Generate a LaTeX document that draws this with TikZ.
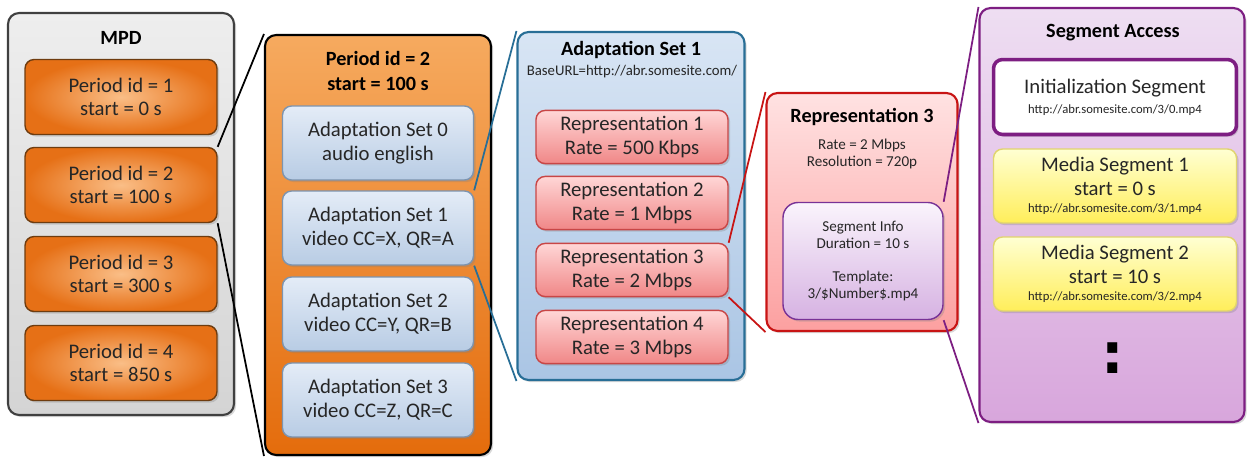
\documentclass[tikz,border=0pt]{standalone}
\usepackage{fontspec}
\setmainfont{Carlito}
\newfontfamily\dotfont{DejaVu Sans}
\usepackage{tikz}
\usetikzlibrary{shadows}
\usepackage{xcolor}
\definecolor{mpdline}{RGB}{64,64,64}
\definecolor{mpdtop}{RGB}{238,238,238}
\definecolor{mpdbot}{RGB}{212,212,212}
\definecolor{perline}{RGB}{110,60,15}
\definecolor{perin}{RGB}{250,190,135}
\definecolor{perout}{RGB}{230,112,22}
\definecolor{pertop}{RGB}{246,170,95}
\definecolor{perbot}{RGB}{228,108,12}
\definecolor{asline}{RGB}{125,148,175}
\definecolor{astop}{RGB}{228,236,247}
\definecolor{asbot}{RGB}{184,204,228}
\definecolor{setline}{RGB}{40,110,150}
\definecolor{settop}{RGB}{216,229,244}
\definecolor{setbot}{RGB}{170,197,228}
\definecolor{repline}{RGB}{200,70,70}
\definecolor{reptop}{RGB}{255,214,214}
\definecolor{repbot}{RGB}{240,135,135}
\definecolor{bigrepline}{RGB}{200,20,20}
\definecolor{bigreptop}{RGB}{255,226,226}
\definecolor{bigrepbot}{RGB}{252,160,160}
\definecolor{infoline}{RGB}{120,50,150}
\definecolor{infotop}{RGB}{250,244,252}
\definecolor{infobot}{RGB}{214,178,226}
\definecolor{accline}{RGB}{125,30,130}
\definecolor{acctop}{RGB}{238,222,242}
\definecolor{accbot}{RGB}{216,166,220}
\definecolor{medline}{RGB}{225,212,110}
\definecolor{medtop}{RGB}{255,255,210}
\definecolor{medbot}{RGB}{255,238,90}
\definecolor{txt}{RGB}{38,38,38}
\newcommand{\bodyfont}{\fontsize{11.8}{13.5}\selectfont}
\newcommand{\headfont}{\fontsize{11.5}{14}\selectfont\bfseries}
\newcommand{\smallfont}{\fontsize{8.6}{9.8}\selectfont}
\newcommand{\urlfont}{\fontsize{7.2}{8}\selectfont}
\tikzstyle{shade} = [drop shadow={opacity=0.3,shadow xshift=1.2pt,shadow yshift=-1.2pt}]
\tikzstyle{bigbox} = [rounded corners=0.22cm, line width=1.2pt, shade]
\tikzstyle{smallbox} = [rounded corners=0.18cm, line width=0.8pt, align=center, text=txt, font=\bodyfont, shade]
\tikzstyle{mpdbox} = [bigbox, draw=mpdline, top color=mpdtop, bottom color=mpdbot]
\tikzstyle{periodbox} = [smallbox, draw=perline, inner color=perin, outer color=perout, minimum width=3.84cm, minimum height=1.5cm]
\tikzstyle{bigperiod} = [bigbox, draw=black, top color=pertop, bottom color=perbot]
\tikzstyle{asbox} = [smallbox, draw=asline, top color=astop, bottom color=asbot, minimum width=3.82cm, minimum height=1.48cm]
\tikzstyle{bigset} = [bigbox, draw=setline, top color=settop, bottom color=setbot]
\tikzstyle{repbox} = [smallbox, draw=repline, top color=reptop, bottom color=repbot, minimum width=3.84cm, minimum height=1.0cm]
\tikzstyle{bigrep} = [bigbox, draw=bigrepline, top color=bigreptop, bottom color=bigrepbot]
\tikzstyle{infobox} = [smallbox, draw=infoline, top color=infotop, bottom color=infobot, font=\smallfont, rounded corners=0.3cm]
\tikzstyle{accbox} = [bigbox, draw=accline, top color=acctop, bottom color=accbot]
\tikzstyle{initbox} = [smallbox, draw=accline, fill=white, line width=2pt, minimum width=4.86cm, minimum height=1.5cm]
\tikzstyle{mediabox} = [smallbox, draw=medline, top color=medtop, bottom color=medbot, minimum width=4.86cm, minimum height=1.48cm]
\tikzstyle{title} = [font=\headfont, text=black, align=center]
\tikzstyle{link} = [line width=1pt]

\begin{document}
\begin{tikzpicture}[x=0.02cm,y=-0.02cm]
\useasboundingbox (0,0) rectangle (1249,457);

% MPD
\node[mpdbox, minimum width=4.52cm, minimum height=8.04cm] (mpd) at (121,214) {};
\node[title] (mpdtitle) at (121,38) {MPD};
\node[periodbox] (p1) at (121,97) {Period id = 1\\start = 0 s};
\node[periodbox] (p2) at (121,185) {Period id = 2\\start = 100 s};
\node[periodbox] (p3) at (121,274) {Period id = 3\\start = 300 s};
\node[periodbox] (p4) at (121,363) {Period id = 4\\start = 850 s};

% Period
\node[bigperiod, minimum width=4.52cm, minimum height=8.4cm] (period) at (378,245) {};
\node[title] (pertitle) at (378,71) {Period id = 2\\start = 100 s};
\node[asbox] (as0) at (378,143) {Adaptation Set 0\\audio english};
\node[asbox] (as1) at (378,228) {Adaptation Set 1\\video CC=X, QR=A};
\node[asbox] (as2) at (378,314) {Adaptation Set 2\\video CC=Y, QR=B};
\node[asbox] (as3) at (378,400) {Adaptation Set 3\\video CC=Z, QR=C};

% Adaptation Set
\node[bigset, minimum width=4.54cm, minimum height=6.96cm] (aset) at (631,206) {};
\node[title] (settitle) at (631,50) {Adaptation Set 1};
\node[font=\fontsize{8.4}{9}\selectfont, text=txt] (baseurl) at (632,72) {BaseURL=http://abr.somesite.com/};
\node[repbox] (r1) at (632,137) {Representation 1\\Rate = 500 Kbps};
\node[repbox] (r2) at (632,203) {Representation 2\\Rate = 1 Mbps};
\node[repbox] (r3) at (632,270) {Representation 3\\Rate = 2 Mbps};
\node[repbox] (r4) at (632,337) {Representation 4\\Rate = 3 Mbps};

% Representation
\node[bigrep, minimum width=3.82cm, minimum height=4.76cm] (rep) at (862,212) {};
\node[title] (reptitle) at (862,117) {Representation 3};
\node[font=\smallfont, text=txt, align=center] (repinfo) at (862,154) {Rate = 2 Mbps\\Resolution = 720p};
\node[infobox, minimum width=3.2cm, minimum height=2.34cm] (seginfo) at (863,261) {Segment Info\\Duration = 10 s\\[9pt]Template:\\3/\$Number\$.mp4};

% Segment Access
\node[accbox, minimum width=5.3cm, minimum height=8.28cm] (segacc) at (1112,215) {};
\node[title] (acctitle) at (1113,33) {Segment Access};
\node[initbox] (init) at (1115,97) {Initialization Segment\\[-2pt]{\urlfont http://abr.somesite.com/3/0.mp4}};
\node[mediabox] (ms1) at (1115,186) {Media Segment 1\\start = 0 s\\[-4pt]{\urlfont http://abr.somesite.com/3/1.mp4}};
\node[mediabox] (ms2) at (1115,274) {Media Segment 2\\start = 10 s\\[-4pt]{\urlfont http://abr.somesite.com/3/2.mp4}};
\node[font=\dotfont\fontsize{32}{32}\selectfont\bfseries] (dots) at (1113,358) {:};

% Links
\draw[link, black] (p2.north east) -- (period.north west);
\draw[link, black] (p2.south east) -- (period.south west);
\draw[link, setline] (as1.north east) -- (aset.north west);
\draw[link, setline] (as1.south east) -- (aset.south west);
\draw[link, bigrepline] (r3.north east) -- (rep.north west);
\draw[link, bigrepline] (r3.south east) -- (rep.south west);
\draw[link, accline] (seginfo.north east) -- (segacc.north west);
\draw[link, accline] (seginfo.south east) -- (segacc.south west);
\end{tikzpicture}
\end{document}
